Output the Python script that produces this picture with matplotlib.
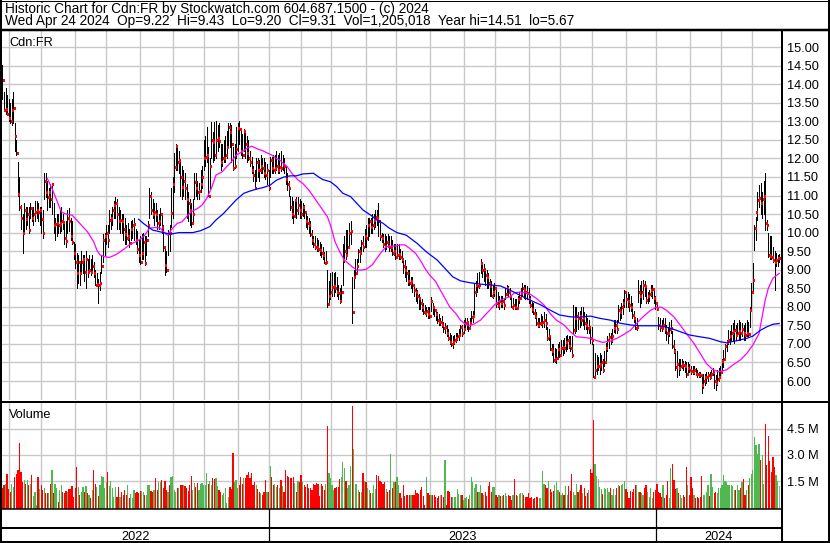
import numpy as np
import pandas as pd
import matplotlib
matplotlib.use("Agg")
import matplotlib.pyplot as plt

plt.rcParams['font.family'] = ['Liberation Sans', 'DejaVu Sans']

symbol = "Cdn:FR"
first_day = "2022-04-25"
last_day = "2024-04-24"
last_open = 9.22
holidays = ['2022-05-23', '2022-07-01', '2022-08-01', '2022-09-05', '2022-10-10',
            '2022-12-26', '2022-12-27', '2023-01-02', '2023-02-20', '2023-04-07',
            '2023-05-22', '2023-07-03', '2023-08-07', '2023-09-04', '2023-10-09',
            '2023-12-25', '2023-12-26', '2024-01-01', '2024-02-19', '2024-03-29']

# daily bars, one value per trading day
lows = [
    13.6, 13.3, 13.2, 13.2, 13.0, 12.95, 12.9, 12.95, 12.2, 12.1,
    11.0, 10.6, 10.1, 9.45, 10.0, 10.1, 10.2, 10.0, 10.4, 10.3,
    10.2, 10.3, 10.4, 10.3, 10.2, 10.0, 9.85, 10.9, 10.95, 10.6,
    10.7, 10.7, 10.5, 10.0, 9.8, 9.9, 10.0, 10.0, 10.05, 10.1,
    9.7, 9.6, 10.0, 10.05, 9.8, 9.7, 9.3, 9.05, 8.5, 8.65,
    8.6, 8.9, 8.9, 8.7, 8.5, 8.8, 8.9, 8.85, 8.95, 8.8,
    8.6, 8.55, 8.1, 8.45, 8.9, 9.2, 9.4, 9.7, 9.6, 10.0,
    10.1, 10.2, 10.4, 10.4, 10.1, 10.1, 10.0, 10.0, 9.8, 9.7,
    9.7, 9.8, 9.6, 9.8, 9.85, 9.8, 9.7, 9.45, 9.2, 9.15,
    9.3, 9.3, 9.13, 9.4, 9.9, 10.4, 10.5, 10.4, 10.2, 10.3,
    10.1, 10.1, 10.2, 10.0, 9.5, 8.86, 8.95, 9.4, 9.5, 10.15,
    10.4, 11.1, 11.7, 11.7, 11.6, 11.0, 10.9, 11.0, 10.9, 10.4,
    10.3, 10.2, 10.15, 10.3, 10.9, 11.0, 10.9, 10.9, 11.1, 11.2,
    11.7, 11.8, 11.9, 11.0, 11.2, 12.0, 11.9, 11.95, 12.0, 12.2,
    12.3, 11.7, 11.8, 11.9, 11.9, 12.0, 12.3, 12.3, 11.9, 11.7,
    11.75, 12.0, 12.2, 12.4, 12.1, 12.0, 12.2, 12.0, 11.9, 11.95,
    11.8, 11.6, 11.4, 11.2, 11.4, 11.5, 11.4, 11.6, 11.6, 11.5,
    11.45, 11.3, 11.15, 11.5, 11.6, 11.6, 11.6, 11.7, 11.6, 11.6,
    11.65, 11.7, 11.6, 11.3, 11.15, 11.0, 10.6, 10.4, 10.26, 10.5,
    10.4, 10.5, 10.4, 10.4, 10.45, 10.4, 10.15, 10.1, 10.0, 9.9,
    9.7, 9.6, 9.55, 9.5, 9.5, 9.4, 9.35, 9.3, 9.18, 9.15,
    8.0, 8.1, 8.2, 8.3, 8.3, 8.4, 8.3, 8.2, 8.1, 8.2,
    8.6, 9.2, 9.3, 9.4, 9.6, 9.7, 7.56, 8.5, 8.8, 8.9,
    9.2, 9.2, 9.5, 9.5, 9.6, 9.6, 9.8, 9.9, 10.0, 10.0,
    10.1, 10.15, 10.2, 9.9, 9.8, 9.75, 9.6, 9.5, 9.55, 9.6,
    9.5, 9.5, 9.4, 9.4, 9.3, 9.35, 9.3, 9.3, 9.2, 8.9,
    8.8, 8.7, 8.6, 8.6, 8.5, 8.4, 8.3, 8.15, 8.1, 7.95,
    7.95, 7.9, 7.8, 7.8, 7.75, 7.7, 7.7, 7.9, 7.8, 7.75,
    7.65, 7.55, 7.5, 7.5, 7.45, 7.32, 7.3, 7.2, 7.1, 7.0,
    6.95, 6.9, 7.0, 7.05, 7.1, 7.1, 7.2, 7.2, 7.3, 7.4,
    7.4, 7.35, 7.45, 7.6, 7.6, 7.8, 8.3, 8.4, 8.5, 8.9,
    8.8, 8.7, 8.6, 8.5, 8.5, 8.3, 8.3, 8.25, 8.3, 8.0,
    8.0, 7.95, 8.0, 8.0, 7.95, 8.2, 8.4, 8.3, 8.2, 8.0,
    7.95, 7.95, 7.95, 8.0, 8.1, 8.2, 8.3, 8.25, 8.2, 8.2,
    8.1, 8.0, 7.85, 7.8, 7.7, 7.5, 7.45, 7.45, 7.5, 7.45,
    7.45, 7.4, 7.1, 7.1, 6.83, 6.7, 6.51, 6.5, 6.49, 6.6,
    6.65, 6.7, 6.7, 6.75, 6.8, 6.85, 6.9, 6.8, 6.65, 7.29,
    7.3, 7.35, 7.4, 7.45, 7.5, 7.5, 7.4, 7.4, 7.3, 7.3,
    7.02, 7.0, 6.1, 6.12, 6.2, 6.3, 6.2, 6.3, 6.25, 6.4,
    6.57, 6.8, 6.9, 7.0, 7.05, 7.32, 7.3, 7.3, 7.59, 7.65,
    7.7, 7.8, 8.0, 8.0, 8.0, 7.9, 7.9, 7.7, 7.6, 7.4,
    7.37, 8.13, 8.0, 8.1, 8.2, 8.3, 8.1, 8.1, 8.15, 8.3,
    8.25, 8.1, 7.95, 7.91, 7.4, 7.35, 7.35, 7.4, 7.3, 7.1,
    7.02, 7.2, 7.3, 6.9, 6.75, 6.3, 6.12, 6.15, 6.3, 6.35,
    6.3, 6.25, 6.12, 6.2, 6.25, 6.2, 6.2, 6.2, 6.15, 6.12,
    6.1, 6.1, 5.67, 5.8, 5.9, 5.95, 6.0, 6.05, 6.1, 6.15,
    5.8, 5.76, 5.9, 6.0, 6.1, 6.3, 6.39, 6.6, 6.8, 7.0,
    7.0, 7.1, 7.1, 7.02, 7.1, 7.2, 7.1, 7.1, 7.2, 7.1,
    7.1, 7.2, 7.2, 7.46, 7.9, 8.45, 9.53, 9.8, 10.34, 10.69,
    10.5, 10.4, 10.5, 10.07, 10.07, 9.34, 9.3, 9.3, 9.2, 8.45,
    9.1, 9.1, 9.2]

highs = [
    14.51, 13.8, 13.9, 13.7, 13.6, 13.5, 13.6, 13.8, 12.95, 12.5,
    11.9, 11.5, 10.75, 10.5, 10.8, 10.7, 10.7, 10.7, 10.8, 10.7,
    10.7, 10.85, 10.85, 10.8, 10.7, 10.7, 10.6, 11.6, 11.6, 11.4,
    11.2, 11.3, 11.35, 10.8, 10.4, 10.5, 10.5, 10.6, 10.7, 10.5,
    10.3, 10.3, 10.6, 10.65, 10.4, 10.3, 9.75, 9.7, 9.45, 9.4,
    9.2, 9.5, 9.4, 9.4, 9.5, 9.3, 9.4, 9.3, 9.4, 9.2,
    9.0, 8.9, 8.75, 8.95, 9.4, 9.95, 10.0, 10.2, 10.2, 10.6,
    10.5, 10.7, 10.85, 10.96, 10.9, 10.7, 10.6, 10.5, 10.5, 10.4,
    10.2, 10.25, 10.1, 10.3, 10.35, 10.4, 10.1, 10.05, 9.8, 9.9,
    9.95, 10.0, 9.9, 9.9, 10.3, 11.2, 11.1, 10.9, 10.8, 10.8,
    10.6, 10.5, 10.65, 10.5, 10.2, 9.6, 9.5, 10.07, 10.2, 11.2,
    11.5, 12.15, 12.4, 12.35, 12.2, 11.9, 11.8, 11.7, 11.6, 11.3,
    11.1, 10.9, 10.8, 10.9, 11.6, 11.6, 11.4, 11.35, 11.7, 11.8,
    12.5, 12.6, 12.85, 12.3, 12.0, 12.98, 12.7, 12.98, 13.0, 12.9,
    12.95, 12.4, 12.4, 12.5, 12.6, 12.75, 12.95, 12.95, 12.9, 12.3,
    12.4, 12.85, 12.95, 13.0, 12.8, 12.65, 12.8, 12.75, 12.6, 12.5,
    12.2, 12.05, 11.8, 11.7, 12.0, 12.0, 11.95, 12.1, 12.0, 12.0,
    11.9, 11.85, 11.7, 12.05, 12.05, 12.1, 12.1, 12.2, 12.1, 12.15,
    12.2, 12.1, 12.0, 11.8, 11.6, 11.4, 11.0, 10.96, 10.85, 10.9,
    10.96, 10.96, 10.9, 10.85, 10.8, 10.75, 10.5, 10.45, 10.4, 10.3,
    10.07, 9.9, 9.9, 9.85, 9.8, 9.75, 9.7, 9.6, 9.48, 9.5,
    9.0, 8.7, 8.9, 8.95, 8.9, 8.95, 8.8, 8.6, 8.5, 8.6,
    9.7, 9.9, 10.07, 10.07, 10.26, 10.3, 8.8, 9.0, 9.3, 9.3,
    9.55, 9.6, 9.8, 9.9, 10.1, 10.2, 10.4, 10.4, 10.4, 10.5,
    10.5, 10.6, 10.6, 10.8, 10.3, 10.0, 9.95, 9.95, 9.9, 9.95,
    9.9, 9.9, 9.8, 9.7, 9.7, 9.7, 9.7, 9.55, 9.5, 9.26,
    9.25, 9.1, 9.0, 9.0, 8.8, 8.8, 8.6, 8.5, 8.45, 8.35,
    8.25, 8.2, 8.1, 8.05, 8.0, 8.0, 8.0, 8.26, 8.1, 8.0,
    7.95, 7.85, 7.8, 7.7, 7.75, 7.6, 7.55, 7.5, 7.4, 7.3,
    7.25, 7.2, 7.25, 7.3, 7.3, 7.4, 7.5, 7.5, 7.65, 7.7,
    7.7, 7.6, 7.7, 7.9, 7.9, 8.64, 8.7, 8.9, 8.95, 9.3,
    9.2, 9.15, 9.0, 9.0, 8.9, 8.75, 8.7, 8.6, 8.65, 8.5,
    8.4, 8.3, 8.3, 8.3, 8.25, 8.5, 8.6, 8.55, 8.5, 8.3,
    8.25, 8.2, 8.2, 8.3, 8.4, 8.5, 8.64, 8.6, 8.6, 8.55,
    8.5, 8.3, 8.13, 8.1, 7.95, 7.85, 7.7, 7.7, 7.8, 7.75,
    7.85, 7.8, 7.46, 7.4, 7.2, 7.0, 7.0, 6.9, 6.85, 7.0,
    7.05, 7.1, 7.1, 7.15, 7.2, 7.25, 7.2, 7.2, 7.2, 8.05,
    8.0, 8.0, 7.85, 7.9, 8.0, 8.0, 7.85, 7.8, 7.7, 7.65,
    7.46, 7.46, 7.0, 6.75, 6.7, 6.65, 6.75, 6.7, 6.6, 6.8,
    7.02, 7.2, 7.3, 7.3, 7.4, 7.64, 7.64, 7.65, 8.05, 8.0,
    8.1, 8.2, 8.45, 8.4, 8.4, 8.35, 8.3, 8.1, 7.9, 7.73,
    7.7, 8.72, 8.6, 8.7, 8.72, 8.7, 8.6, 8.4, 8.45, 8.6,
    8.6, 8.5, 8.3, 8.13, 7.73, 7.7, 7.65, 7.7, 7.7, 7.5,
    7.45, 7.6, 7.65, 7.35, 7.1, 6.85, 6.8, 6.6, 6.6, 6.6,
    6.55, 6.55, 6.5, 6.5, 6.45, 6.4, 6.4, 6.4, 6.35, 6.3,
    6.25, 6.25, 6.1, 6.2, 6.2, 6.25, 6.25, 6.25, 6.3, 6.35,
    6.2, 6.15, 6.3, 6.35, 6.4, 6.6, 6.83, 7.0, 7.1, 7.37,
    7.35, 7.5, 7.55, 7.64, 7.5, 7.55, 7.64, 7.6, 7.55, 7.5,
    7.55, 7.64, 7.6, 8.0, 8.64, 9.18, 10.2, 10.42, 11.1, 11.28,
    11.33, 11.1, 11.4, 11.6, 10.33, 10.0, 9.9, 9.9, 9.6, 9.5,
    9.45, 9.4, 9.43]

closes = [
    14.1, 13.3, 13.32, 13.2, 13.1, 13.0, 13.3, 13.35, 12.6, 12.15,
    11.05, 10.68, 10.4, 10.0, 10.6, 10.37, 10.5, 10.07, 10.65, 10.4,
    10.5, 10.55, 10.6, 10.55, 10.62, 10.37, 10.0, 11.4, 11.1, 10.97,
    11.1, 10.9, 11.3, 10.2, 10.22, 10.25, 10.2, 10.25, 10.3, 10.28,
    9.85, 9.78, 10.4, 10.3, 9.9, 9.75, 9.45, 9.2, 8.9, 9.2,
    8.92, 9.2, 9.3, 8.95, 9.3, 8.95, 9.0, 8.95, 9.1, 8.9,
    8.6, 8.62, 8.58, 8.65, 9.1, 9.8, 9.9, 10.0, 9.8, 10.35,
    10.4, 10.6, 10.75, 10.8, 10.5, 10.3, 10.35, 10.32, 10.1, 9.95,
    9.85, 9.9, 9.72, 10.1, 10.2, 10.22, 9.8, 9.55, 9.4, 9.2,
    9.45, 9.75, 9.18, 9.8, 10.2, 10.98, 10.6, 10.5, 10.55, 10.5,
    10.25, 10.3, 10.5, 10.15, 9.6, 9.13, 9.0, 10.0, 9.99, 10.53,
    11.3, 11.77, 12.33, 11.9, 11.95, 11.5, 11.23, 11.4, 11.2, 10.9,
    10.8, 10.6, 10.25, 10.5, 11.36, 11.2, 11.1, 11.12, 11.3, 11.5,
    12.0, 12.05, 12.1, 11.0, 11.8, 12.5, 12.45, 12.1, 12.5, 12.55,
    12.48, 11.9, 12.0, 12.02, 12.1, 12.3, 12.85, 12.7, 12.4, 11.75,
    11.8, 12.25, 12.82, 12.8, 12.2, 12.1, 12.75, 12.4, 12.14, 12.0,
    11.9, 11.7, 11.55, 11.2, 11.9, 11.7, 11.68, 11.8, 11.75, 11.6,
    11.55, 11.7, 11.2, 11.96, 11.75, 11.7, 11.75, 11.8, 11.7, 11.78,
    11.74, 11.85, 11.8, 11.45, 11.3, 11.2, 10.7, 10.5, 10.45, 10.88,
    10.6, 10.75, 10.6, 10.5, 10.7, 10.55, 10.3, 10.25, 10.2, 9.95,
    9.8, 9.7, 9.62, 9.6, 9.55, 9.52, 9.45, 9.4, 9.19, 9.2,
    8.08, 8.3, 8.4, 8.54, 8.55, 8.5, 8.4, 8.38, 8.16, 8.4,
    9.26, 9.5, 9.4, 9.6, 9.99, 10.05, 7.87, 8.81, 8.9, 9.1,
    9.5, 9.45, 9.72, 9.6, 9.9, 9.85, 10.2, 10.3, 10.15, 10.2,
    10.35, 10.43, 10.4, 10.3, 9.9, 9.85, 9.7, 9.65, 9.75, 9.65,
    9.6, 9.62, 9.45, 9.5, 9.35, 9.4, 9.42, 9.35, 9.3, 9.1,
    9.0, 8.9, 8.7, 8.64, 8.7, 8.6, 8.45, 8.4, 8.3, 8.23,
    8.1, 8.0, 7.85, 7.83, 7.9, 7.8, 7.75, 8.15, 8.0, 7.91,
    7.8, 7.65, 7.6, 7.6, 7.5, 7.43, 7.45, 7.3, 7.16, 7.05,
    7.0, 7.05, 7.1, 7.15, 7.2, 7.25, 7.46, 7.3, 7.4, 7.55,
    7.6, 7.43, 7.55, 7.73, 7.75, 8.41, 8.6, 8.55, 8.6, 9.18,
    9.0, 9.02, 8.85, 8.8, 8.65, 8.55, 8.3, 8.4, 8.5, 8.1,
    8.05, 8.15, 8.1, 8.15, 8.05, 8.35, 8.5, 8.4, 8.3, 8.0,
    8.05, 8.0, 7.98, 8.2, 8.25, 8.37, 8.5, 8.45, 8.4, 8.37,
    8.2, 8.05, 7.95, 7.83, 7.75, 7.55, 7.5, 7.55, 7.57, 7.6,
    7.65, 7.55, 7.16, 7.2, 6.87, 6.8, 6.57, 6.6, 6.62, 6.85,
    6.7, 6.9, 6.92, 6.9, 7.05, 7.1, 6.95, 6.9, 6.7, 7.37,
    7.7, 7.75, 7.7, 7.75, 7.65, 7.7, 7.55, 7.5, 7.43, 7.45,
    7.15, 7.1, 6.12, 6.3, 6.4, 6.4, 6.45, 6.5, 6.3, 6.5,
    6.9, 7.1, 7.19, 7.1, 7.2, 7.43, 7.5, 7.4, 7.91, 7.85,
    8.0, 8.1, 8.4, 8.2, 8.15, 8.05, 8.0, 7.78, 7.7, 7.43,
    7.45, 8.4, 8.3, 8.4, 8.59, 8.55, 8.18, 8.3, 8.35, 8.45,
    8.47, 8.25, 8.1, 7.93, 7.5, 7.45, 7.43, 7.5, 7.4, 7.3,
    7.29, 7.4, 7.42, 6.95, 6.8, 6.39, 6.45, 6.35, 6.4, 6.45,
    6.43, 6.4, 6.2, 6.35, 6.3, 6.28, 6.25, 6.3, 6.2, 6.18,
    6.16, 6.15, 5.89, 6.0, 6.1, 6.12, 6.15, 6.1, 6.2, 6.25,
    6.0, 5.95, 6.05, 6.1, 6.25, 6.55, 6.6, 6.95, 7.05, 7.1,
    7.2, 7.3, 7.35, 7.38, 7.25, 7.3, 7.35, 7.3, 7.4, 7.3,
    7.24, 7.3, 7.28, 7.91, 8.41, 8.72, 10.13, 10.55, 10.88, 10.93,
    10.8, 10.9, 11.0, 10.25, 10.2, 9.4, 9.38, 9.33, 9.25, 9.2,
    9.26, 9.31, 9.31]

# millions of shares
volumes = [
    1.08, 1.27, 1.36, 1.9, 1.02, 0.89, 1.36, 1.17, 1.74, 1.93, 2.12, 3.68, 2.03, 1.45,
    1.55, 1.36, 1.55, 1.3, 1.36, 1.84, 0.66, 0.89, 0.13, 1.74, 1.04, 1.27, 0.98, 1.1,
    0.79, 0.79, 0.79, 1.36, 2.12, 0.79, 1.32, 1.11, 0.32, 0.98, 1.27, 0.89, 0.79, 0.95,
    0.85, 1.04, 1.04, 1.21, 0.6, 1.08, 2.31, 1.17, 0.73, 0.89, 1.17, 0.85, 1.23, 0.8,
    0.7, 0.54, 0.98, 2.12, 1.36, 1.17, 0.66, 1.3, 1.78, 1.74, 1.11, 1.42, 2.01, 1.2,
    1.5, 1.08, 0.6, 1.17, 0.6, 1.17, 0.6, 0.89, 0.7, 0.98, 0.73, 1.27, 0.54, 0.75,
    0.54, 0.98, 0.79, 0.85, 0.79, 0.92, 0.92, 0.89, 0.73, 0.7, 1.3, 1.27, 0.92, 0.85,
    0.98, 1.65, 0.98, 1.46, 1.42, 1.55, 1.08, 1.5, 0.98, 0.89, 1.27, 1.74, 1.8, 1.0,
    0.89, 1.08, 1.08, 1.27, 1.3, 1.3, 1.23, 1.08, 0.94, 1.27, 1.8, 0.98, 1.38, 1.15,
    1.4, 0.98, 1.36, 1.4, 1.27, 1.3, 1.97, 1.36, 1.5, 1.3, 1.65, 1.61, 1.69, 1.2,
    0.98, 0.89, 0.7, 0.83, 1.11, 0.26, 0.6, 1.17, 1.04, 3.09, 1.42, 1.55, 1.08, 1.3,
    1.74, 1.36, 1.65, 1.65, 1.84, 2.03, 1.65, 1.97, 1.27, 1.42, 1.3, 1.02, 0.89, 0.8,
    0.7, 0.89, 1.55, 0.89, 0.89, 2.37, 1.74, 1.3, 1.36, 1.17, 1.27, 1.08, 1.55, 1.2,
    0.89, 2.12, 1.78, 1.74, 1.69, 1.65, 1.71, 1.4, 0.89, 1.5, 1.42, 1.84, 1.46, 1.3,
    1.17, 1.36, 1.11, 1.08, 0.98, 1.36, 1.3, 1.38, 1.36, 0.66, 1.36, 1.2, 1.0, 1.36, 4.65,
    1.97, 1.69, 1.27, 0.98, 1.08, 1.17, 1.17, 1.61, 1.74, 2.6, 2.22, 1.5, 1.08,
    1.3, 2.37, 5.79,
    3.32, 1.36, 1.36, 0.98, 0.89, 0.85, 1.97, 1.5, 1.42, 1.08, 0.98, 0.79, 0.83,
    1.3, 1.04, 1.84, 1.78, 1.5, 1.42, 1.36, 1.42, 1.02, 0.89, 0.98,
    3.03, 1.08, 1.42, 1.42, 1.74, 1.3, 0.79, 0.54, 1.27, 0.66, 0.73, 0.7, 0.7, 0.73,
    0.7, 0.73, 0.98, 0.8, 0.75,
    0.98, 1.17, 0.66, 0.13, 1.74, 0.79, 0.73, 0.73, 0.73, 0.7, 0.6, 0.54, 0.65,
    0.7, 0.7, 0.6, 2.69, 0.13, 0.92, 0.89, 0.6, 0.6, 0.6, 0.56, 1.02, 0.75,
    0.7, 0.7, 0.41, 0.51, 0.6, 0.47, 0.73, 1.74, 1.42, 1.08, 1.36, 0.85, 0.9,
    1.3, 0.83, 0.7, 0.85, 0.66, 1.23, 1.42, 0.89, 1.17, 1.17, 0.7, 0.6, 0.7,
    0.66, 0.66, 0.73, 0.79, 0.64, 0.73, 0.66, 0.41, 0.73, 1.61, 0.7, 0.66, 0.75,
    0.79, 0.83, 0.73, 0.6, 0.56, 0.79, 0.54, 0.6, 0.47, 0.51, 0.6, 0.56, 0.55,
    0.51, 2.07, 1.36, 1.27, 1.11, 1.5, 1.04, 0.89, 0.92, 1.27, 1.42, 0.98, 0.9,
    0.73, 0.79, 0.7, 1.23, 0.7, 1.23, 0.92, 1.93, 0.89, 0.73, 1.36, 0.85, 1.0,
    1.3, 0.83, 1.08, 0.66, 0.79, 1.0, 2.18, 1.99, 4.97, 2.5, 1.78, 1.61, 1.17,
    1.04, 0.75, 1.11, 1.04, 1.11, 0.85, 1.11, 0.7, 1.04, 0.73, 1.08, 1.27, 1.2,
    1.3, 1.36, 1.5, 1.04, 0.89, 0.54, 0.92, 0.89, 1.04, 1.27, 1.3, 0.89, 0.85,
    0.79, 0.73, 1.08, 1.3, 0.89, 0.6, 1.08, 0.54, 0.89, 0.98, 1.36, 0.89, 0.8,
    0.6, 1.27, 0.54, 0.7, 1.5, 0.51, 2.22, 2.45, 1.55, 1.04, 1.08, 0.79, 0.7,
    0.54, 0.7, 0.6, 2.31, 1.3, 0.7, 1.74, 1.11, 0.73, 0.54, 0.6, 0.54, 0.6,
    1.78, 0.73, 0.73, 0.89, 1.3, 0.66, 1.93, 1.17, 0.83, 0.89, 0.79, 1.08, 1.1,
    1.3, 1.84, 1.5, 1.42, 1.3, 1.27, 1.3, 1.23, 0.98, 0.98, 1.27, 0.98, 1.1,
    1.46, 1.61, 0.7, 0.98, 1.27, 1.65, 1.93, 2.12, 4.02, 3.55, 3.07, 3.64, 2.69,
    3.02, 1.36, 4.78, 2.41, 4.08, 2.64, 2.03, 2.9, 2.31, 1.84, 1.5, 1.205018]

# moving averages (bar index, price)
ma_fast_at = [29, 32, 35, 38, 41, 45, 48, 51, 55, 59, 61, 63, 66, 69, 73, 76, 79, 82, 86, 89,
              92, 95, 99, 102, 105, 107, 109, 113, 116, 119, 122, 126, 129, 132, 135, 138, 142,
              145, 148, 151, 155, 158, 161, 164, 168, 171, 174, 177, 179, 184, 187, 191, 194,
              198, 201, 204, 207, 210, 212, 215, 218, 221, 226, 229, 232, 235, 239, 242, 245,
              248, 252, 255, 257, 260, 263, 267, 270, 273, 276, 280, 283, 286, 289, 293, 296,
              299, 302, 305, 309, 312, 315, 318, 322, 325, 328, 331, 335, 338, 341, 345, 350,
              354, 358, 363, 367, 371, 375, 380, 384, 388, 393, 397, 401, 406, 410, 414, 419,
              423, 426, 429, 434, 438, 442, 447, 451, 455, 459, 463, 468, 472, 477, 481, 485,
              489, 491, 493, 495, 498, 502]
ma_fast = [11.46, 11.19, 10.88, 10.56, 10.5, 10.47, 10.34, 10.2, 10.02, 9.75, 9.53, 9.4, 9.35,
           9.33, 9.4, 9.48, 9.57, 9.67, 9.75, 9.82, 9.93, 10.12, 10.14, 10.12, 9.98, 9.93,
           10.07, 10.25, 10.29, 10.43, 10.56, 10.65, 10.74, 10.92, 11.19, 11.55, 11.64, 11.78,
           11.91, 12.09, 12.18, 12.27, 12.33, 12.27, 12.21, 12.15, 12.09, 12.0, 11.96, 11.78,
           11.6, 11.42, 11.33, 11.15, 10.97, 10.79, 10.61, 10.43, 10.2, 9.75, 9.48, 9.26, 9.08,
           8.99, 8.99, 9.01, 9.13, 9.31, 9.48, 9.62, 9.64, 9.64, 9.67, 9.67, 9.58, 9.44, 9.26,
           9.04, 8.86, 8.68, 8.45, 8.23, 8.0, 7.82, 7.64, 7.54, 7.49, 7.54, 7.64, 7.78, 7.91,
           8.05, 8.18, 8.23, 8.27, 8.38, 8.4, 8.38, 8.34, 8.23, 8.05, 7.82, 7.64, 7.51, 7.33,
           7.19, 7.18, 7.15, 7.09, 7.04, 7.08, 7.15, 7.24, 7.37, 7.56, 7.73, 7.91, 7.99, 7.99,
           7.91, 7.73, 7.51, 7.28, 7.01, 6.74, 6.47, 6.31, 6.25, 6.3, 6.43, 6.57, 6.74, 6.97,
           7.28, 7.73, 8.18, 8.5, 8.77, 8.9]
ma_slow_at = [88, 91, 94, 97, 102, 106, 109, 114, 119, 123, 128, 134, 138, 143, 147, 151, 156,
              160, 164, 169, 173, 177, 182, 186, 190, 194, 201, 204, 207, 212, 216, 220, 225,
              229, 233, 238, 242, 246, 250, 255, 261, 268, 274, 281, 287, 291, 296, 302, 309,
              315, 322, 328, 335, 341, 348, 354, 360, 367, 373, 380, 386, 393, 399, 406, 412,
              419, 425, 432, 438, 444, 451, 457, 464, 468, 475, 481, 485, 490, 494, 498, 502]
ma_slow = [10.36, 10.25, 10.16, 10.07, 10.02, 9.98, 9.96, 10.0, 10.0, 10.0, 10.05, 10.16, 10.34,
           10.52, 10.7, 10.88, 11.06, 11.12, 11.17, 11.22, 11.28, 11.41, 11.5, 11.53, 11.53,
           11.58, 11.6, 11.51, 11.43, 11.37, 11.24, 11.06, 10.97, 10.79, 10.61, 10.47, 10.34,
           10.25, 10.12, 10.0, 9.93, 9.71, 9.48, 9.26, 8.99, 8.81, 8.7, 8.65, 8.61, 8.59, 8.56,
           8.45, 8.3, 8.18, 8.05, 7.91, 7.78, 7.73, 7.72, 7.75, 7.69, 7.64, 7.56, 7.51, 7.49,
           7.49, 7.49, 7.42, 7.33, 7.24, 7.19, 7.15, 7.06, 7.03, 7.09, 7.15, 7.21, 7.37, 7.46,
           7.53, 7.55]

price_ticks = np.arange(6.0, 15.01, 0.5)
volume_ticks = [1.5, 3.0, 4.5]

W, H = 830, 543
GRID = "#c8c8c8"
FS = 9.2
FS_HEAD = 9.8


def px_axes(fig, x0, y0, x1, y1):
	return fig.add_axes([x0 / W, 1 - y1 / H, (x1 - x0) / W, (y1 - y0) / H])


def clean(ax):
	for s in ax.spines.values():
		s.set_visible(False)


def main():
	days = pd.bdate_range(first_day, last_day)
	days = days[~days.isin(pd.to_datetime(holidays))]
	n = len(days)
	assert len(lows) == len(highs) == len(closes) == len(volumes) == n
	x = np.arange(n)
	month_start = [i for i in range(1, n) if days[i].month != days[i - 1].month]
	year_start = [i for i in month_start if days[i].month == 1]
	grid_x = np.array(month_start) - 0.8
	x_lim = (-0.3, n + 0.2)

	fig = plt.figure(figsize=(W / 100, H / 100), dpi=100)
	fig.patch.set_facecolor("white")

	# price panel
	ax = px_axes(fig, 2, 31, 781, 400)
	clean(ax)
	ax.set_xlim(*x_lim)
	ax.set_ylim(5.488, 15.434)
	ax.set_yticks(price_ticks)
	ax.set_yticklabels(["%.2f" % t for t in price_ticks])
	ax.yaxis.tick_right()
	ax.tick_params(axis="y", length=0, pad=4, labelsize=FS)
	ax.set_xticks(grid_x)
	ax.tick_params(axis="x", length=0, labelbottom=False)
	ax.grid(True, color=GRID, lw=1.0)
	ax.set_axisbelow(True)
	ax.vlines(x, lows, highs, color="black", lw=0.7, antialiased=False)
	ax.hlines(closes, x + 0.25, x + 0.9, color="red", lw=1.0, zorder=3, antialiased=False)
	ax.plot(ma_fast_at, ma_fast, color="#ff00ff", lw=0.9, zorder=4)
	ax.plot(ma_slow_at, ma_slow, color="#0000ff", lw=0.9, zorder=4)

	# volume panel
	vax = px_axes(fig, 2, 402.5, 781, 509)
	clean(vax)
	vax.set_xlim(*x_lim)
	vax.set_ylim(-0.1, 6.0)
	vax.set_yticks(volume_ticks)
	vax.set_yticklabels(["%.1f M" % t for t in volume_ticks])
	vax.yaxis.tick_right()
	vax.tick_params(axis="y", length=0, pad=4, labelsize=FS)
	vax.set_xticks(grid_x)
	vax.tick_params(axis="x", length=0, labelbottom=False)
	vax.grid(True, color=GRID, lw=1.0)
	vax.set_axisbelow(True)
	change = np.diff(np.array(closes), prepend=closes[0] + 0.01)
	colors = ["#ff0000" if c < 0 else ("#4fb84f" if c > 0 else "#a8a8a8") for c in change]
	vol = np.array(volumes)
	vax.bar(x, vol + 0.1, bottom=-0.1, width=0.8, color=colors, lw=0)

	# date rows
	dax = px_axes(fig, 2, 509, 781, 541)
	dax.set_xlim(*x_lim)
	dax.set_ylim(0, 1)
	dax.axis("off")
	bounds = [x_lim[0]] + [i - 0.8 for i in year_start] + [x_lim[1]]
	years = [days[0].year] + [days[i].year for i in year_start]
	for b in bounds[1:-1]:
		dax.axvline(b, color="black", lw=0.9)
	for k, yr in enumerate(years):
		dax.text((bounds[k] + bounds[k + 1]) / 2, 0.04, str(yr), ha="center",
		         va="baseline", fontsize=FS)

	# frame and header, in pixel units
	ov = fig.add_axes([0, 0, 1, 1], zorder=10)
	ov.set_xlim(0, W)
	ov.set_ylim(H, 0)
	ov.axis("off")

	def hline(y, x0, x1, w):
		ov.plot([x0, x1], [y, y], color="black", lw=w * 0.72, solid_capstyle="butt")

	def vline(xp, y0, y1, w):
		ov.plot([xp, xp], [y0, y1], color="black", lw=w * 0.72, solid_capstyle="butt")

	hline(0.5, 0, W, 1)
	hline(30, 0, W, 2.5)
	hline(400.5, 0, W, 1)
	hline(402.3, 0, W, 1)
	hline(509.3, 0, 781, 1.5)
	hline(527.5, 0, 781, 2)
	hline(541.5, 0, W, 2)
	vline(1, 0, H, 2)
	vline(829, 0, H, 2)
	vline(781.8, 30, 541.5, 2)

	line1 = "Historic Chart for %s by Stockwatch.com 604.687.1500 - (c) 2024" % symbol
	line2 = "%s  Op=%.2f  Hi=%.2f  Lo=%.2f  Cl=%.2f  Vol=%s  Year hi=%.2f  lo=%.2f" % (
		days[-1].strftime("%a %b %d %Y"), last_open, highs[-1], lows[-1], closes[-1],
		format(int(round(volumes[-1] * 1e6)), ","), max(highs), min(lows))
	ov.text(5, 13.3, line1, va="baseline", fontsize=FS_HEAD)
	ov.text(5, 25, line2, va="baseline", fontsize=FS_HEAD)
	ov.text(9, 46.5, symbol, va="baseline", fontsize=FS)
	ov.text(9, 417.5, "Volume", va="baseline", fontsize=FS)

	fig.savefig("out.png", dpi=100)


if __name__ == "__main__":
	main()
